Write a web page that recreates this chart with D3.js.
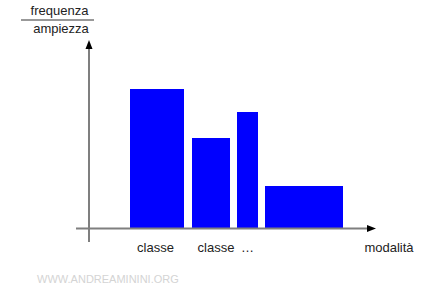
<!DOCTYPE html>
<html>
<head>
<meta charset="utf-8">
<script src="https://cdn.jsdelivr.net/npm/d3@7"></script>
<style>
  html, body { margin: 0; padding: 0; background: #fff; }
  svg { display: block; }
</style>
</head>
<body>
<script>
// Data (x in "modalità" units, y in frequenza/ampiezza units)
const classStart = [54, 116, 161, 189];
const classEnd   = [108, 154, 182, 267];
const density    = [139, 90, 116, 42];
const classLabels = ["classe", "classe", "…"];
const classLabelPos = [79.5, 140, 171.5];
const xAxisTitle = "modalità";
const yNumerator = "frequenza";
const yDenominator = "ampiezza";
const watermark = "WWW.ANDREAMININI.ORG";

const W = 440, H = 290;
const svg = d3.select("body").append("svg").attr("width", W).attr("height", H);

const x = d3.scaleLinear().domain([0, 300]).range([76, 376]);
const y = d3.scaleLinear().domain([0, 140]).range([228, 88]);

const font = "'Liberation Sans', Arial, sans-serif";

// Bars
svg.selectAll("rect.bar")
  .data(density.map((d, i) => ({ s: classStart[i], e: classEnd[i], v: d })))
  .join("rect")
  .attr("class", "bar")
  .attr("x", d => x(d.s))
  .attr("width", d => x(d.e) - x(d.s))
  .attr("y", d => y(d.v))
  .attr("height", d => y(0) - y(d.v))
  .attr("fill", "#0000ff");

// Axes
const axisColor = "#7f7f7f";
const x0 = x(13); // vertical axis position
svg.append("line")
  .attr("x1", x(0)).attr("x2", 368)
  .attr("y1", y(0) + 0.5).attr("y2", y(0) + 0.5)
  .attr("stroke", axisColor).attr("stroke-width", 2);
svg.append("path")
  .attr("d", `M367,${y(0) - 3} L376,${y(0) + 0.5} L367,${y(0) + 4} Z`)
  .attr("fill", "#000");

svg.append("line")
  .attr("x1", x0).attr("x2", x0)
  .attr("y1", 242).attr("y2", 48)
  .attr("stroke", axisColor).attr("stroke-width", 2);
svg.append("path")
  .attr("d", `M${x0 - 3.5},49 L${x0},40 L${x0 + 3.5},49 Z`)
  .attr("fill", "#000");

// Class labels
svg.selectAll("text.cl")
  .data(classLabels)
  .join("text")
  .attr("class", "cl")
  .attr("x", (d, i) => x(classLabelPos[i]))
  .attr("y", 252)
  .attr("text-anchor", "middle")
  .attr("font-family", font)
  .attr("font-size", 13)
  .attr("fill", "#222")
  .text(d => d);

svg.append("text")
  .attr("x", 389).attr("y", 252)
  .attr("text-anchor", "middle")
  .attr("font-family", font).attr("font-size", 13)
  .attr("fill", "#222")
  .text(xAxisTitle);

// Y title as fraction
svg.append("text")
  .attr("x", 59.5).attr("y", 15)
  .attr("text-anchor", "middle")
  .attr("font-family", font).attr("font-size", 13)
  .attr("fill", "#222")
  .text(yNumerator);
svg.append("line")
  .attr("x1", 21).attr("x2", 94)
  .attr("y1", 20).attr("y2", 20)
  .attr("stroke", "#777").attr("stroke-width", 1.5);
svg.append("text")
  .attr("x", 61).attr("y", 33)
  .attr("text-anchor", "middle")
  .attr("font-family", font).attr("font-size", 13)
  .attr("fill", "#222")
  .text(yDenominator);

// Watermark
svg.append("text")
  .attr("x", 37).attr("y", 283)
  .attr("font-family", font).attr("font-size", 11)
  .attr("fill", "#d4d4d4")
  .text(watermark);
</script>
</body>
</html>
